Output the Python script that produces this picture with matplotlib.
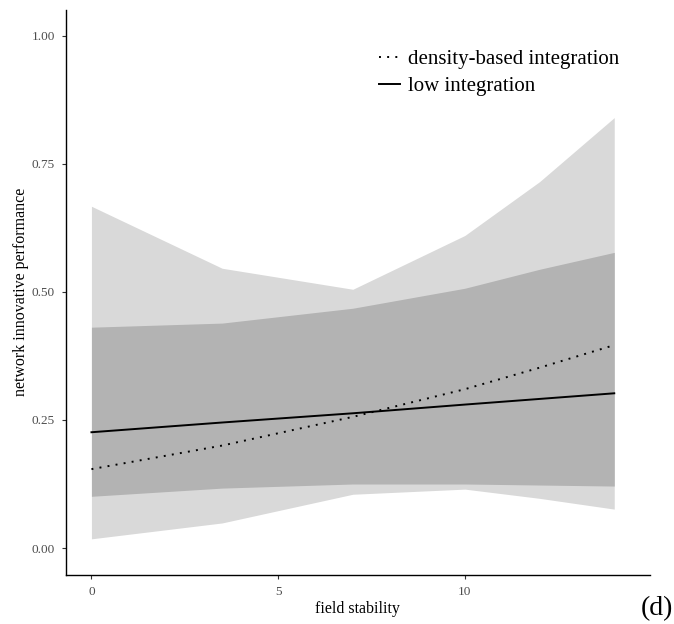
import numpy as np
import matplotlib.pyplot as plt

plt.rcParams['font.family'] = ['Liberation Serif', 'DejaVu Serif']

# field stability values where the ribbons bend
x = [0, 3.5, 7, 10, 12, 14]

# density-based integration: confidence band (light grey)
dens_low = [0.018, 0.049, 0.105, 0.115, 0.097, 0.076]
dens_high = [0.667, 0.546, 0.505, 0.610, 0.715, 0.840]
dens_fit = [0.154, 0.200, 0.256, 0.310, 0.352, 0.396]

# low integration: confidence band (dark grey)
low_low = [0.101, 0.117, 0.125, 0.125, 0.123, 0.121]
low_high = [0.431, 0.439, 0.468, 0.507, 0.544, 0.577]
low_fit = [0.226, 0.245, 0.263, 0.280, 0.291, 0.302]

xticks = [0, 5, 10]
yticks = [0.00, 0.25, 0.50, 0.75, 1.00]

fig = plt.figure(figsize=(6.74, 6.24), dpi=100)
ax = fig.add_axes([0.098, 0.079, 0.866, 0.905])

ax.fill_between(x, dens_low, dens_high, color='#d9d9d9', lw=0)
ax.fill_between(x, low_low, low_high, color='#b3b3b3', lw=0)

ax.plot(x, dens_fit, color='black', lw=1.4, linestyle=(0, (1, 3.2)),
        label='density-based integration')
ax.plot(x, low_fit, color='black', lw=1.4, label='low integration')

ax.set_xlim(-0.68, 14.95)
ax.set_ylim(-0.052, 1.05)
ax.set_xticks(xticks)
ax.set_xticklabels([str(t) for t in xticks])
ax.set_yticks(yticks)
ax.set_yticklabels(['%.2f' % t for t in yticks])
ax.tick_params(axis='both', length=3, width=0.8, color='#333333',
               labelcolor='#4d4d4d', labelsize=9.5, pad=5)

for s in ['top', 'right']:
    ax.spines[s].set_visible(False)
for s in ['left', 'bottom']:
    ax.spines[s].set_linewidth(1.0)

ax.set_xlabel('field stability', fontsize=11.5, labelpad=2)
ax.set_ylabel('network innovative performance', fontsize=11.5, labelpad=1.5)

ax.legend(loc='upper right', bbox_to_anchor=(0.962, 0.945), frameon=False,
          fontsize=15, handlelength=1.0, handletextpad=0.4,
          labelspacing=0.35, borderaxespad=0)

fig.text(0.998, 0.004, '(d)', fontsize=20, ha='right', va='bottom')

fig.savefig('out.png', dpi=100)
